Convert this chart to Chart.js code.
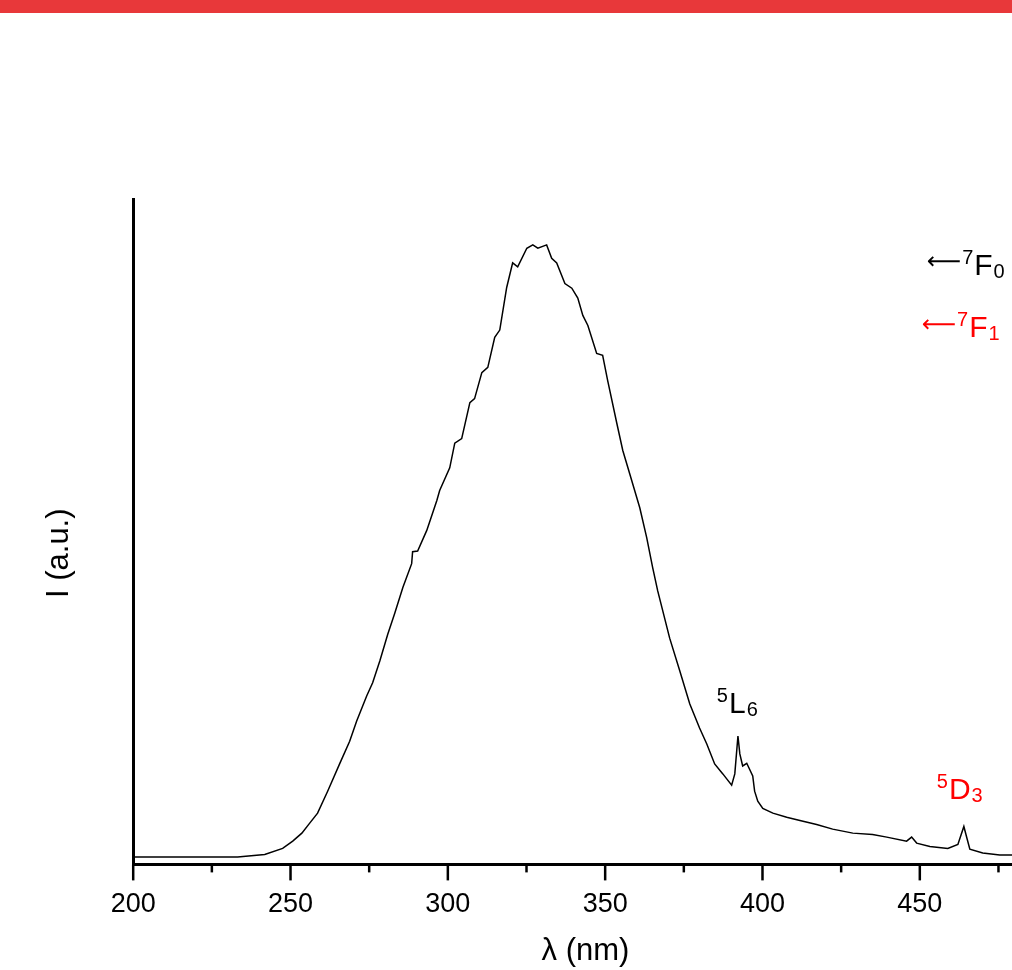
<!DOCTYPE html>
<html lang="en">
<head>
    <meta charset="UTF-8">
    <title>Excitation spectrum</title>
    <script src="https://cdn.jsdelivr.net/npm/chart.js"></script>
    <style>
        html, body {
            margin: 0;
            padding: 0;
            background: #fff;
        }
        #wrap {
            position: relative;
            width: 1012px;
            height: 970px;
        }
        #topbar {
            position: absolute;
            left: 0;
            top: 0;
            width: 1012px;
            height: 13px;
            background: #e8383a;
        }
    </style>
</head>
<body>
    <div id="wrap">
        <canvas id="spectrum"></canvas>
        <div id="topbar"></div>
    </div>
    <script>
        // spectrum (wavelength in nm, intensity in arbitrary units)
        const wavelength = [200, 233.2, 241.8, 247.5, 250.7, 253.6, 256.1, 258.6, 261.8, 265.6,
            268.8, 271.0, 274.2, 276.1, 278.4, 280.9, 283.1, 285.7, 288.5, 288.8,
            290.4, 293.3, 296.5, 297.4, 300.6, 302.2, 304.4, 307.0, 308.5, 310.8,
            312.7, 314.9, 316.5, 318.7, 320.6, 322.2, 325.1, 327.0, 328.6, 331.4,
            333.0, 334.6, 337.2, 339.4, 341.3, 342.9, 344.5, 347.3, 349.2, 350.8,
            353.7, 355.6, 357.8, 361.0, 363.2, 365.1, 366.7, 370.5, 373.7, 376.9,
            380.0, 382.3, 384.8, 387.4, 390.2, 391.2, 392.2, 392.8, 393.7, 395.0,
            396.9, 397.5, 398.5, 400.1, 403.3, 407.7, 411.9, 417.2, 422.3, 428.7,
            435.0, 439.5, 445.8, 447.4, 449.0, 453.2, 458.9, 462.1, 464.0, 465.0,
            465.9, 470.0, 475.4, 479.2, 484];
        const intensity = [1.1, 1.1, 1.5, 2.4, 3.5, 4.7, 6.2, 7.7, 11.0, 15.1,
            18.5, 21.5, 25.3, 27.3, 30.6, 34.6, 37.7, 41.6, 45.2, 47.0,
            47.1, 50.2, 54.7, 56.2, 59.6, 63.3, 64.0, 69.4, 70.0, 73.9,
            74.7, 79.2, 80.3, 86.7, 90.4, 89.8, 92.6, 93.1, 92.6, 93.1,
            91.1, 90.4, 87.3, 86.6, 85.1, 82.5, 81.0, 76.8, 76.5, 72.7,
            66.3, 62.2, 58.7, 53.6, 49.1, 44.6, 41.1, 34.0, 29.1, 24.1,
            20.5, 18.1, 15.1, 13.6, 11.9, 13.6, 19.3, 16.6, 14.8, 15.2,
            13.3, 11.0, 9.5, 8.4, 7.7, 7.1, 6.6, 6.0, 5.3, 4.7,
            4.5, 4.1, 3.5, 4.1, 3.2, 2.7, 2.4, 3.0, 5.7, 3.9,
            2.3, 1.7, 1.4, 1.4, 1.3];
        const xLabelValues = [200, 250, 300, 350, 400, 450];
        const xTickValues = [200, 225, 250, 275, 300, 325, 350, 375, 400, 425, 450, 475];

        // transition labels: anchor (x, y) in data units is the left end / baseline
        const transitions = [
            { arrow: true, sup: '7', main: 'F', sub: '0', x: 452.2, y: 88.6, color: '#000' },
            { arrow: true, sup: '7', main: 'F', sub: '1', x: 450.6, y: 79.2, color: '#ff0000' },
            { arrow: false, sup: '5', main: 'L', sub: '6', x: 385.5, y: 22.7, color: '#000' },
            { arrow: false, sup: '5', main: 'D', sub: '3', x: 455.4, y: 9.8, color: '#ff0000' }
        ];

        const FONT = '"Liberation Sans", Arial, sans-serif';
        const NBSP = '\u00a0';

        // major/minor tick marks below the x axis
        const tickMarks = {
            id: 'tickMarks',
            afterDraw(chart) {
                const { ctx, chartArea, scales: { x } } = chart;
                ctx.save();
                ctx.strokeStyle = '#000';
                ctx.lineWidth = 2.5;
                xTickValues.forEach(v => {
                    const px = x.getPixelForValue(v);
                    const len = v % 50 === 0 ? 16 : 8;
                    ctx.beginPath();
                    ctx.moveTo(px, chartArea.bottom);
                    ctx.lineTo(px, chartArea.bottom + len);
                    ctx.stroke();
                });
                ctx.restore();
            }
        };

        const transitionLabels = {
            id: 'transitionLabels',
            afterDraw(chart) {
                const { ctx, scales: { x, y } } = chart;
                ctx.save();
                ctx.textAlign = 'left';
                transitions.forEach(t => {
                    let cx = x.getPixelForValue(t.x);
                    const by = y.getPixelForValue(t.y);
                    ctx.fillStyle = t.color;
                    if (t.arrow) {
                        ctx.font = '24px "DejaVu Sans"';
                        ctx.textBaseline = 'middle';
                        ctx.fillText('\u27F5', cx, by - 12);
                        cx += ctx.measureText('\u27F5').width + 1;
                    }
                    ctx.textBaseline = 'alphabetic';
                    ctx.font = '20px ' + FONT;
                    ctx.fillText(t.sup, cx, by - 11);
                    cx += ctx.measureText(t.sup).width + 1;
                    ctx.font = '30px ' + FONT;
                    ctx.fillText(t.main, cx, by);
                    cx += ctx.measureText(t.main).width + 1;
                    ctx.font = '20px ' + FONT;
                    ctx.fillText(t.sub, cx, by + 3);
                });
                ctx.restore();
            }
        };

        const ctx = document.getElementById('spectrum').getContext('2d');
        new Chart(ctx, {
            type: 'line',
            data: {
                datasets: [{
                    data: wavelength.map((w, i) => ({ x: w, y: intensity[i] })),
                    borderColor: '#000',
                    borderWidth: 1.5,
                    pointRadius: 0,
                    tension: 0,
                    fill: false
                }]
            },
            options: {
                responsive: true,
                maintainAspectRatio: false,
                animation: false,
                layout: { padding: { left: 41, top: 199, right: 0, bottom: 0 } },
                plugins: {
                    legend: { display: false },
                    tooltip: { enabled: false }
                },
                scales: {
                    x: {
                        type: 'linear',
                        min: 200,
                        max: 479.3,
                        afterBuildTicks: scale => {
                            scale.ticks = xLabelValues.map(v => ({ value: v }));
                        },
                        grid: { display: false, drawTicks: false },
                        border: { display: true, color: '#000', width: 3 },
                        ticks: {
                            autoSkip: false,
                            maxRotation: 0,
                            padding: 24,
                            color: '#000',
                            font: { family: FONT, size: 27 }
                        },
                        title: {
                            display: true,
                            // leading spaces nudge the centred title right, as in the original
                            text: NBSP.repeat(3) + 'λ (nm)',
                            color: '#000',
                            font: { family: FONT, size: 31 },
                            padding: { top: -12, bottom: 0 }
                        }
                    },
                    y: {
                        min: 0,
                        max: 100,
                        grid: { display: false, drawTicks: false },
                        border: { display: true, color: '#000', width: 3 },
                        ticks: { display: false },
                        title: {
                            display: true,
                            // trailing spaces push the rotated title a little lower
                            text: 'I (a.u.)' + NBSP.repeat(5),
                            color: '#000',
                            font: { family: FONT, size: 31 },
                            padding: { top: 0, bottom: 55 }
                        }
                    }
                }
            },
            plugins: [tickMarks, transitionLabels]
        });
    </script>
</body>
</html>
